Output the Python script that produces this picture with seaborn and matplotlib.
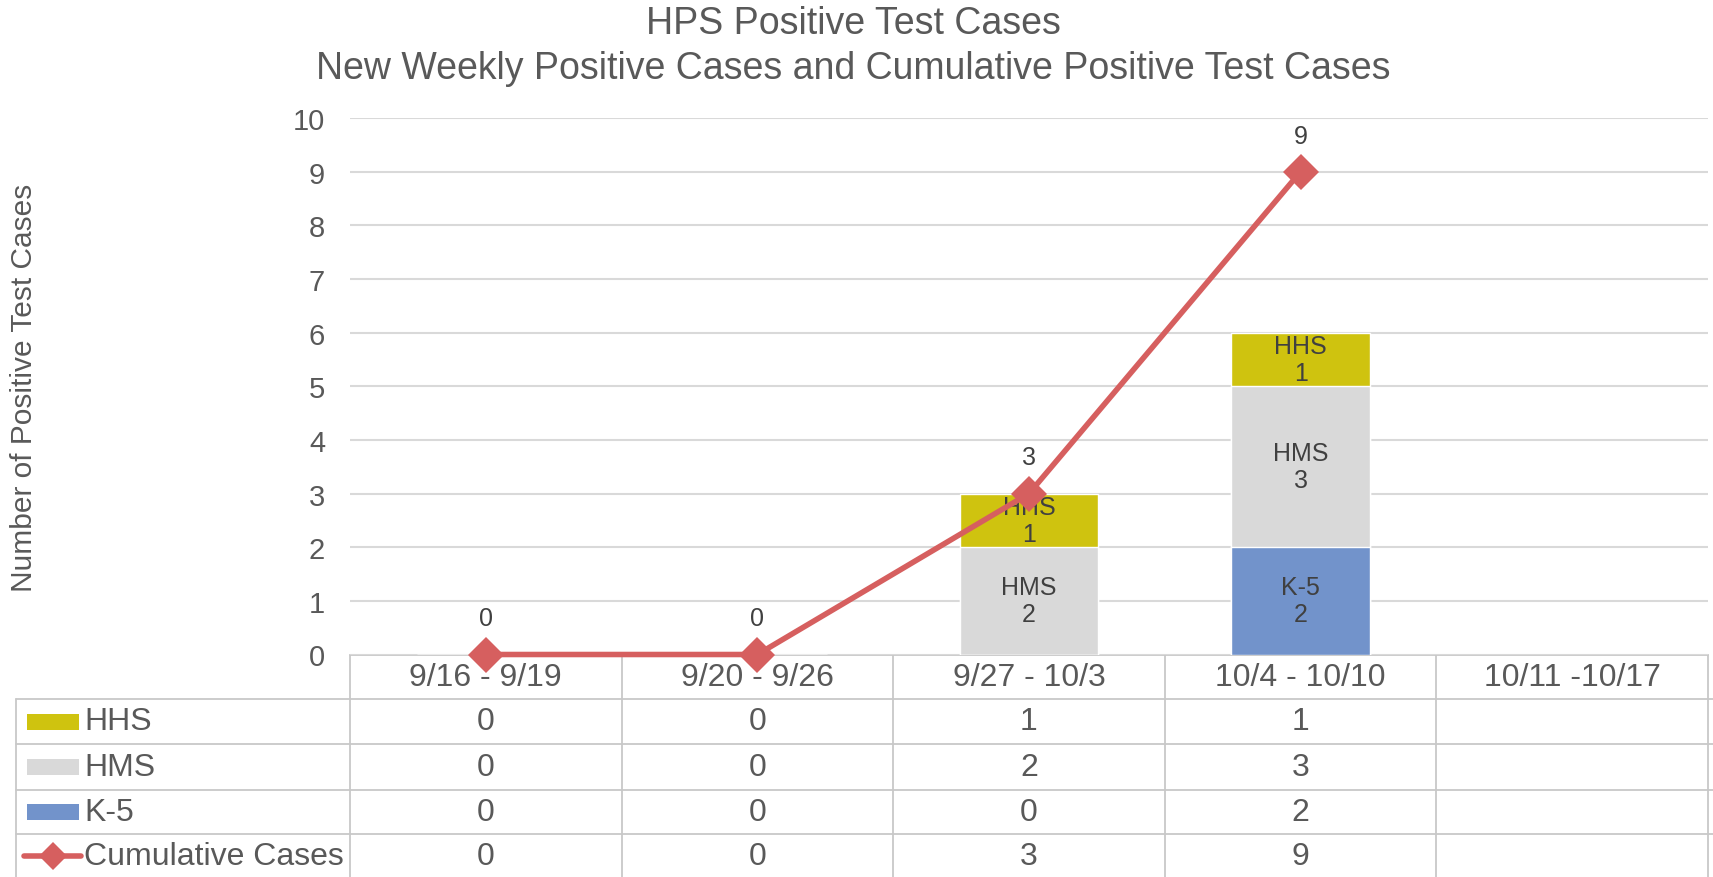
import numpy as np
import pandas as pd
import matplotlib
matplotlib.use("Agg")
import matplotlib.pyplot as plt
import matplotlib.transforms as mtransforms
from matplotlib.patches import Rectangle
from matplotlib.lines import Line2D
import seaborn as sns

# data
weeks = ["9/16 - 9/19", "9/20 - 9/26", "9/27 - 10/3", "10/4 - 10/10", "10/11 -10/17"]
hhs = [0, 0, 1, 1, None]
hms = [0, 0, 2, 3, None]
k5 = [0, 0, 0, 2, None]
cumulative = [0, 0, 3, 9, None]

series_colors = {"HHS": "#CFC30F", "HMS": "#D9D9D9", "K-5": "#7293CB"}
line_color = "#D65F5F"
text_color = "#595959"
label_color = "#404040"
rule_color = "#C8C8C8"

sns.set_style("white")
plt.rcParams["font.family"] = ["Liberation Sans", "DejaVu Sans"]

W, H = 1713, 878
fig = plt.figure(figsize=(W / 100, H / 100), dpi=100)

# table / frame layer in pixel coordinates
tab = fig.add_axes([0, 0, 1, 1], zorder=0)
tab.set_xlim(0, W)
tab.set_ylim(H, 0)
tab.axis("off")

ax = fig.add_axes([350 / W, 1 - 655.5 / H, (1708 - 350) / W, (655.5 - 119) / H], zorder=1)
ax.patch.set_visible(False)

df = pd.DataFrame({"week": weeks, "HHS": hhs, "HMS": hms, "K-5": k5,
                   "cum": cumulative}).astype({"HHS": float, "HMS": float, "K-5": float, "cum": float})

# stacked bars drawn as overlapping totals, top layer first
stack_order = ["HHS", "HMS", "K-5"]
for i, name in enumerate(stack_order):
    top = df[stack_order[i:]].sum(axis=1, min_count=1)
    sns.barplot(x=df["week"], y=top, order=weeks, color=series_colors[name],
                width=0.51, errorbar=None, saturation=1, ax=ax, zorder=2)

# segment labels
for j in range(len(weeks)):
    base = 0
    for name in ["K-5", "HMS", "HHS"]:
        v = df.loc[j, name]
        if pd.notna(v) and v > 0:
            ax.text(j, base + v / 2, f"{name}\n{int(v)}", ha="center", va="center",
                    fontsize=18, color=label_color, zorder=4, linespacing=1.15)
            base += v

# cumulative line
cum_df = df.dropna(subset=["cum"]).reset_index()
sns.lineplot(x=cum_df["index"], y=cum_df["cum"], color=line_color, lw=4, marker="D",
             markersize=18, markeredgewidth=0, ax=ax, zorder=5, clip_on=False)
for _, r in cum_df.iterrows():
    ax.annotate(f"{int(r['cum'])}", (r["index"], r["cum"]), xytext=(0, 26),
                textcoords="offset points", ha="center", va="center",
                fontsize=18, color=label_color, zorder=6)

ax.set_xlim(-0.5, len(weeks) - 0.5)
ax.set_ylim(0, 10)
ax.set_yticks(range(0, 11))
ax.yaxis.grid(True, color="#D9D9D9", lw=1.5)
ax.set_axisbelow(True)
ax.set_xlabel("")
ax.set_ylabel("")
ax.tick_params(axis="x", length=0, labelbottom=False)
ax.tick_params(axis="y", length=0, pad=18, labelsize=21, labelcolor=text_color)
sns.despine(ax=ax, left=True, bottom=True)

# data table under the axis
bt = mtransforms.blended_transform_factory(ax.transData, tab.transData)
row_edges = [655.5, 700, 745, 791, 835, 879]
label_left = 16
n = len(weeks)

tab.plot([-0.5, n - 0.5], [row_edges[0]] * 2, color=rule_color, lw=1.3, transform=bt)
for y in row_edges[1:-1]:
    tab.plot([label_left, W], [y, y], color=rule_color, lw=1.3, clip_on=False)
for k in range(n + 1):
    tab.plot([k - 0.5, k - 0.5], [row_edges[0], H], color=rule_color, lw=1.3, transform=bt)
tab.plot([label_left, label_left], [row_edges[1], H], color=rule_color, lw=1.3)

header_y = (row_edges[0] + row_edges[1]) / 2
for j, w in enumerate(weeks):
    tab.text(j, header_y, w, ha="center", va="center", fontsize=23, color=text_color, transform=bt)

rows = [("HHS", hhs), ("HMS", hms), ("K-5", k5), ("Cumulative Cases", cumulative)]
for r, (name, vals) in enumerate(rows):
    yc = (row_edges[r + 1] + row_edges[r + 2]) / 2
    if name in series_colors:
        tab.add_patch(Rectangle((27, yc - 8), 52, 16, color=series_colors[name], lw=0))
    else:
        tab.add_line(Line2D([24, 81], [yc, yc], color=line_color, lw=4, solid_capstyle="round"))
        tab.add_line(Line2D([52.5], [yc], color=line_color, marker="D", markersize=14, markeredgewidth=0))
    tab.text(84, yc, name, ha="left", va="center", fontsize=23, color=text_color)
    for j, v in enumerate(vals):
        if v is not None:
            tab.text(j, yc, str(v), ha="center", va="center", fontsize=23, color=text_color, transform=bt)

fig.text(24 / W, 1 - 388 / H, "Number of Positive Test Cases", rotation=90, ha="center", va="center",
         fontsize=21.5, color=text_color)
fig.text(853 / W, 1 - 24 / H, "HPS Positive Test Cases", ha="center", va="center",
         fontsize=27, color=text_color)
fig.text(853 / W, 1 - 69 / H, "New Weekly Positive Cases and Cumulative Positive Test Cases",
         ha="center", va="center", fontsize=27, color=text_color)

fig.savefig("out.png", dpi=100)
